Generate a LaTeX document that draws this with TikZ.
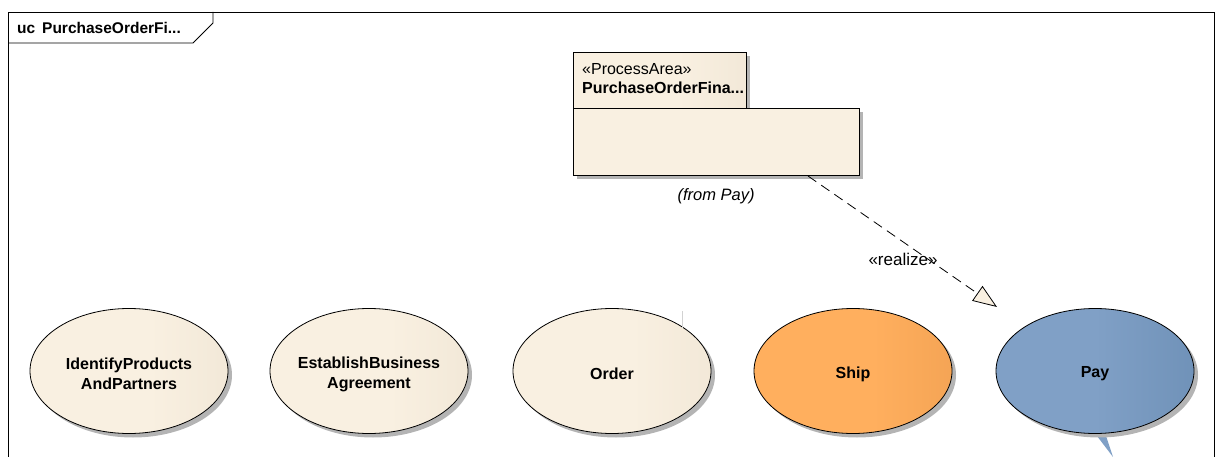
\documentclass[tikz,border=0pt]{standalone}
\usepackage{fontspec}
\setmainfont{Liberation Sans}
\usetikzlibrary{shapes.geometric,arrows.meta,shadows}
\definecolor{creamL}{HTML}{F9F0E1}
\definecolor{creamR}{HTML}{EADFCD}
\definecolor{shipL}{HTML}{FFAF5E}
\definecolor{shipR}{HTML}{E8974A}
\definecolor{payL}{HTML}{80A0C6}
\definecolor{payR}{HTML}{6084AB}
\definecolor{shad}{HTML}{B4B4B4}
\pgfdeclarehorizontalshading{creamsh}{100bp}{color(0bp)=(creamL); color(55bp)=(creamL); color(100bp)=(creamR)}
\pgfdeclarehorizontalshading{shipsh}{100bp}{color(0bp)=(shipL); color(55bp)=(shipL); color(100bp)=(shipR)}
\pgfdeclarehorizontalshading{paysh}{100bp}{color(0bp)=(payL); color(50bp)=(payL); color(100bp)=(payR)}
\tikzset{
  lw/.style={line width=0.8pt},
  uc/.style={ellipse, draw, lw, minimum width=198pt, minimum height=125pt, inner sep=0pt,
    drop shadow={shadow xshift=4pt, shadow yshift=-4pt, fill=shad, opacity=1}},
  uctext/.style={inner sep=0pt, align=center, font=\bfseries\fontsize{16}{20}\selectfont},
  cream/.style={shading=creamsh},
  pkg/.style={rectangle, draw, lw, anchor=north west, inner sep=0pt,
    drop shadow={shadow xshift=4pt, shadow yshift=-4pt, fill=shad, opacity=1}},
  lbl/.style={inner sep=0pt, font=\fontsize{16}{18}\selectfont}
}
\begin{document}
\begin{tikzpicture}[x=1pt,y=-1pt]
\useasboundingbox (0,0) rectangle (1223,457);
% frame
\draw[lw] (8,457) -- (8,12) -- (1214,12) -- (1214,457);
\draw[lw] (8,43) -- (193,43) -- (213,23) -- (213,12);
\node[lbl, anchor=west, font=\bfseries\fontsize{15.5}{18}\selectfont] (title) at (17,28) {uc\, PurchaseOrderFi...};
% package
\node[pkg, cream, minimum width=173pt, minimum height=56pt] (ptab) at (573,52) {};
\node[pkg, fill=creamL, minimum width=286pt, minimum height=67pt] (pbody) at (573,108) {};
\node[lbl, anchor=west] (stereo) at (582,69) {«ProcessArea»};
\node[lbl, anchor=west, font=\bfseries\fontsize{16}{18}\selectfont] (pname) at (582,88) {PurchaseOrderFina...};
\node[lbl, font=\itshape\fontsize{16.5}{18}\selectfont] (from) at (716,196) {(from Pay)};
% use cases
\node[uc, cream] (u1) at (129,371) {};
\node[uc, cream] (u2) at (369,371) {};
\node[uc, cream] (u3) at (612,371) {};
\node[uc, shading=shipsh] (u4) at (853,371) {};
\fill[payL] (1097,436) -- (1106,436) -- (1113,457) -- cycle;
\node[uc, shading=paysh] (u5) at (1095,371) {};
\node[uctext] (u1t) at (129,374) {IdentifyProducts\\AndPartners};
\node[uctext] (u2t) at (369,374) {EstablishBusiness\\Agreement};
\node[uctext] (u3t) at (612,374) {Order};
\node[uctext] (u4t) at (853,374) {Ship};
\node[uctext] (u5t) at (1095,374) {Pay};
\draw[gray!35, line width=0.6pt] (682,311) -- (682,328);
% realize
\coordinate (rs) at (808,176);
\coordinate (re) at (997,307);
\draw[lw, dash pattern=on 10pt off 6pt, -{Triangle[length=24pt, width=18pt, open, fill=creamL]}] (rs) -- (re);
\node[lbl, font=\fontsize{17}{18}\selectfont] (rl) at (903,259) {«realize»};
\end{tikzpicture}
\end{document}
